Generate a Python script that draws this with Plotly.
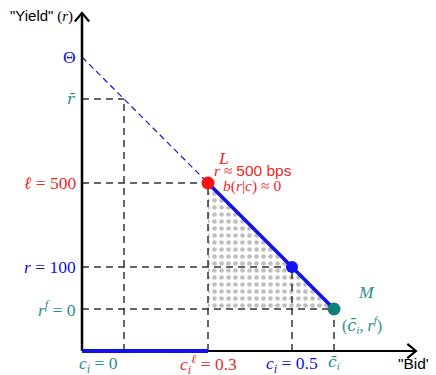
import plotly.graph_objects as go

# ---- conceptual values (model units) ----
theta = 7.0          # intercept Θ
r_bar = 6.0          # r̄
r_ell = 4.0          # ℓ = 500
r_mid = 2.0          # r = 100
r_f = 1.0            # r^f = 0
c_zero = 1.0         # c_i = 0
c_ell = 3.0          # c_i^ℓ = 0.3
c_mid = 5.0          # c_i = 0.5
c_bar = 6.0          # c̄_i
x_axis_end = 7.95
y_axis_end = 8.05

BLUE = "#1010f0"
RED = "#f02828"
TEAL = "#2a8f8a"
DASH = "#333333"
SERIF = "Liberation Serif"
SANS = "Liberation Sans"
FS = 17.5
BAR = '<span style="font-family:DejaVu Serif">{}</span>'

def supply(c):
    return theta - c

fig = go.Figure()

# dotted region under the solid segment
fig.add_trace(go.Scatter(
    x=[c_ell, c_bar, c_ell, c_ell], y=[supply(c_ell), supply(c_bar), r_f, supply(c_ell)],
    mode="none", fill="toself", fillcolor="rgba(0,0,0,0)",
    fillpattern=dict(shape=".", fgcolor="#808080", bgcolor="white", size=7, solidity=0.35),
    hoverinfo="skip", showlegend=False))

# dashed guide lines
guides_h = [(r_bar, c_zero), (r_ell, c_ell), (r_mid, c_mid), (r_f, c_bar)]
guides_v = [(c_zero, r_bar), (c_ell, r_ell), (c_mid, r_mid), (c_bar, r_f)]
for yv, xe in guides_h:
    fig.add_trace(go.Scatter(x=[0, xe], y=[yv, yv], mode="lines",
                             line=dict(color=DASH, width=1.5, dash="7px,5px"),
                             hoverinfo="skip", showlegend=False))
for xv, ye in guides_v:
    fig.add_trace(go.Scatter(x=[xv, xv], y=[0, ye], mode="lines",
                             line=dict(color=DASH, width=1.5, dash="7px,5px"),
                             hoverinfo="skip", showlegend=False))

# dashed blue extension
fig.add_trace(go.Scatter(x=[0, c_ell], y=[supply(0), supply(c_ell)], mode="lines",
                         line=dict(color=BLUE, width=1.2, dash="6px,4px"),
                         hoverinfo="skip", showlegend=False))

# axes
fig.add_trace(go.Scatter(x=[0, 0], y=[0, y_axis_end], mode="lines",
                         line=dict(color="black", width=2.5), hoverinfo="skip", showlegend=False))
fig.add_trace(go.Scatter(x=[0, x_axis_end], y=[0, 0], mode="lines",
                         line=dict(color="black", width=2.2), hoverinfo="skip", showlegend=False))
ah = 0.17
fig.add_trace(go.Scatter(x=[-ah, 0, ah], y=[y_axis_end - ah * 1.2, y_axis_end, y_axis_end - ah * 1.2],
                         mode="lines", line=dict(color="black", width=2.2),
                         hoverinfo="skip", showlegend=False))
fig.add_trace(go.Scatter(x=[x_axis_end - ah * 1.2, x_axis_end, x_axis_end - ah * 1.2], y=[ah, 0, -ah],
                         mode="lines", line=dict(color="black", width=2.2),
                         hoverinfo="skip", showlegend=False))

# thick blue segments
fig.add_trace(go.Scatter(x=[c_ell, c_bar], y=[supply(c_ell), supply(c_bar)], mode="lines",
                         line=dict(color=BLUE, width=3.5), hoverinfo="skip", showlegend=False))
fig.add_trace(go.Scatter(x=[0, c_ell], y=[0, 0], mode="lines",
                         line=dict(color=BLUE, width=4), hoverinfo="skip", showlegend=False))

# points
fig.add_trace(go.Scatter(x=[c_ell], y=[r_ell], mode="markers",
                         marker=dict(color="#ff1010", size=13), hoverinfo="skip", showlegend=False))
fig.add_trace(go.Scatter(x=[c_mid], y=[r_mid], mode="markers",
                         marker=dict(color=BLUE, size=12), hoverinfo="skip", showlegend=False))
fig.add_trace(go.Scatter(x=[c_bar], y=[r_f], mode="markers",
                         marker=dict(color="#0e8078", size=13), hoverinfo="skip", showlegend=False))

ann = []
def label(x, y, text, color, xanchor="center", yanchor="middle", size=FS, family=SERIF, xs=0, ys=0):
    ann.append(dict(x=x, y=y, xref="x", yref="y", text=text, showarrow=False,
                    xanchor=xanchor, yanchor=yanchor, xshift=xs, yshift=ys,
                    font=dict(color=color, size=size, family=family)))

# y-axis labels
label(0, theta, "Θ", BLUE, xanchor="right", xs=-4)
label(0, r_bar, "<i>" + BAR.format("r̄") + "</i>", TEAL, xanchor="right", xs=-5, size=15)
label(0, r_ell, "<i>ℓ</i> = 500", RED, xanchor="right", xs=-4)
label(0, r_mid, "<i>r</i> = 100", BLUE, xanchor="right", xs=-4)
label(0, r_f, "<i>r<sup>f</sup></i> = 0", TEAL, xanchor="right", xs=-4)

# x-axis labels
label(c_zero, 0, "<i>c<sub>i</sub></i> = 0", TEAL, yanchor="top", xs=-26, ys=0)
label(c_ell, 0, "<i>c<sub>i</sub><sup>ℓ</sup></i> = 0.3", RED, yanchor="top", ys=1)
label(c_mid, 0, "<i>c<sub>i</sub></i> = 0.5", BLUE, yanchor="top", ys=0)
label(c_bar, 0, "<i>" + BAR.format("c̄") + "<sub>i</sub></i>", TEAL, yanchor="top", ys=0, size=15.5)

# axis titles
ann.append(dict(x=0, y=y_axis_end, xref="x", yref="y", showarrow=False,
                xanchor="right", yanchor="middle", xshift=-7, yshift=-3,
                text='<span style="font-family:Liberation Sans">"Yield"</span> (<i>r</i>)',
                font=dict(color="black", size=15, family=SERIF)))
ann.append(dict(x=1, y=0, xref="paper", yref="y", showarrow=False,
                xanchor="right", yanchor="top", xshift=-3, yshift=-2,
                text='"Bid"', font=dict(color="black", size=15.5, family=SANS)))

# point annotations
label(c_ell, r_ell, "<i>L</i>", RED, xanchor="left", yanchor="bottom", xs=8, ys=13)
label(c_ell, r_ell, '<i>r</i> ≈ <span style="font-family:Liberation Sans">500 bps</span>', RED,
      xanchor="left", yanchor="middle", xs=4, ys=13, size=15.5)
label(c_ell, r_ell, "<i>b</i>(<i>r</i>|<i>c</i>) ≈ 0", RED, xanchor="left", yanchor="middle",
      xs=13, ys=-3, size=15.5)
label(c_bar, r_f, "<i>M</i>", TEAL, xanchor="left", yanchor="middle", xs=22, ys=17)
label(c_bar, r_f, "(<i>" + BAR.format("c̄") + "<sub>i</sub></i>, <i>r<sup>f</sup></i>)", TEAL,
      xanchor="left", yanchor="middle", xs=6, ys=-16, size=16)

# the page body adds an 8px offset; size the figure to fill the rest of the window
u = 42.0
W, H = 428, 367
x0_px, y0_px = 74, 343
fig.update_layout(
    width=W, height=H, margin=dict(l=0, r=0, t=0, b=0),
    paper_bgcolor="white", plot_bgcolor="white",
    xaxis=dict(range=[-x0_px / u, (W - x0_px) / u], visible=False, fixedrange=True),
    yaxis=dict(range=[-(H - y0_px) / u, y0_px / u], visible=False, fixedrange=True),
    annotations=ann, showlegend=False,
)
fig.write_html("out.html")
